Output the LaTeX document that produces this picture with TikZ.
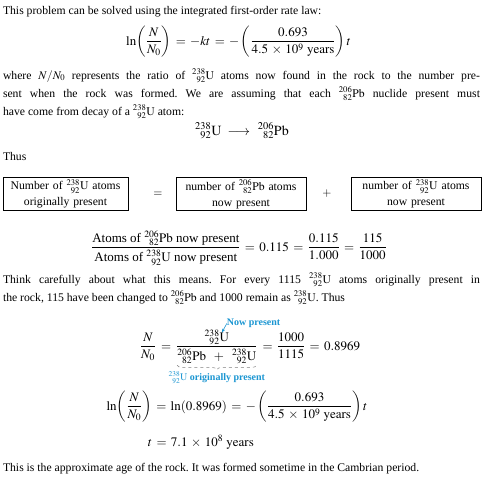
\documentclass[tikz,border=0pt]{standalone}
\usepackage{amsmath}
\usepackage{mathtools}
\usepackage{mathptmx}
\usepackage{fontspec}
\setmainfont{Liberation Serif}
\usetikzlibrary{decorations.pathreplacing,arrows.meta}
\definecolor{anno}{RGB}{27,150,210}
\newcommand{\isoU}{$\prescript{238}{92}{\mathrm{U}}$}
\newcommand{\isoPb}{$\prescript{206}{82}{\mathrm{Pb}}$}
\newcommand{\mU}{\prescript{238}{92}{\mathrm{U}}}
\newcommand{\mPb}{\prescript{206}{82}{\mathrm{Pb}}}
\newcommand{\dispfont}{\fontsize{13}{16}\selectfont\thickmuskip=6mu\relax\medmuskip=5mu\relax}
\frenchspacing
\begin{document}
\begin{tikzpicture}[x=1pt,y=-1pt,
  every node/.style={inner sep=0pt,outer sep=0pt,font=\fontsize{11.7}{14}\selectfont},
  txt/.style={anchor=base west},
  disp/.style={font=\dispfont},
  eqn/.style={disp,anchor=base},
  jline/.style={anchor=base west},
  boxn/.style={draw,line width=0.6pt,inner sep=2pt,align=center,minimum height=31pt,anchor=west,font=\fontsize{11.7}{16}\selectfont},
  annot/.style={text=anno,font=\fontsize{10}{12}\selectfont\bfseries},
  annarrow/.style={-{Stealth[length=4pt,width=3pt]},draw=anno,line width=0.6pt},
  bracel/.style={decorate,decoration={brace,mirror,amplitude=4.5pt},draw=gray,dashed,line width=0.5pt}
]
\useasboundingbox (0,0) rectangle (491,488);
\fill[white] (0,0) rectangle (491,488);

\node[txt] (l1) at (3,14) {This problem can be solved using the integrated first-order rate law:};
\node[eqn] (e1) at (238.5,45) {$\ln\!\left(\dfrac{N}{N_0}\right) = -kt = -\left(\dfrac{0.693}{4.5\times 10^9\ \mathrm{years}}\right)t$};

\node[jline] (l2) at (3,79) {\makebox[477pt][s]{where $N/N_0$ represents the ratio of \isoU{} atoms now found in the rock to the number pre-}};
\node[jline] (l3) at (3,97) {\makebox[477pt][s]{sent when the rock was formed. We are assuming that each \isoPb{} nuclide present must}};
\node[txt] (l4) at (3,115) {have come from decay of a \isoU{} atom:};

\node[eqn,font=\fontsize{14}{16}\selectfont] (r1) at (242,135) {$\mU \;\longrightarrow\;\, \mPb$};

\node[txt] (thus) at (3,160) {Thus};

\node[boxn,text width=121pt] (b1) at (3,194) {Number of \isoU{} atoms\\originally present};
\node (eq) at (158,194) {$=$};
\node[boxn,text width=126pt] (b2) at (176,194) {number of \isoPb{} atoms\\now present};
\node (pl) at (327,194) {$+$};
\node[boxn,text width=126pt] (b3) at (351,194) {number of \isoU{} atoms\\now present};

\node[eqn] (f1) at (239,251) {$\dfrac{\text{Atoms of \isoPb{} now present}\rule[-3pt]{0pt}{3pt}}{\rule{0pt}{12pt}\text{Atoms of \isoU{} now present}} = 0.115 = \dfrac{0.115}{1.000} = \dfrac{115}{1000}$};

\node[jline] (l5) at (3,283) {\makebox[477pt][s]{Think carefully about what this means. For every 1115 \isoU{} atoms originally present in}};
\node[txt] (l6) at (3,301) {the rock, 115 have been changed to \isoPb{} and 1000 remain as \isoU. Thus};

\node[disp,anchor=base west] (ea1) at (140,350) {$\dfrac{N}{N_0}$};
\node[disp,anchor=base west] (ea1e) at ([xshift=5pt]ea1.base east) {$=$};
\node[disp,anchor=base west] (ea2) at ([xshift=5pt]ea1e.base east) {$\dfrac{\mU}{\mPb \;+\; \mU}$};
\node[disp,anchor=base west] (ea3) at ([xshift=5pt]ea2.base east) {$=\dfrac{1000}{1115} = 0.8969$};

\node[annot,anchor=base west] (now) at ([xshift=10pt,yshift=4pt]ea2.north) {Now present};
\coordinate (numU) at ([xshift=5pt,yshift=-3pt]ea2.north);
\draw[annarrow] (now.west) -- (numU);

\coordinate (brL) at ([xshift=1pt,yshift=-1pt]ea2.south west);
\coordinate (brR) at ([xshift=-1pt,yshift=-1pt]ea2.south east);
\draw[bracel] (brL) -- (brR);
\node[annot,anchor=base] (orig) at ([yshift=-16pt]ea2.south) {\isoU{} originally present};

\node[eqn] (e2) at (237,410) {$\ln\!\left(\dfrac{N}{N_0}\right) = \ln(0.8969) = -\left(\dfrac{0.693}{4.5\times 10^9\ \mathrm{years}}\right)t$};
\node[disp,anchor=base west] (e3) at (148,446) {$t = 7.1\times 10^8\ \mathrm{years}$};

\node[txt] (l7) at (3,471) {This is the approximate age of the rock. It was formed sometime in the Cambrian period.};
\end{tikzpicture}
\end{document}
